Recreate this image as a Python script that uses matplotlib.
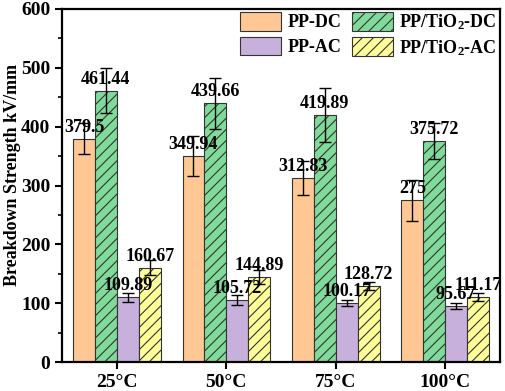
import matplotlib
matplotlib.use("Agg")
import matplotlib.pyplot as plt
import numpy as np
from matplotlib.ticker import MultipleLocator

plt.rcParams['font.family'] = ['Liberation Serif', 'DejaVu Serif']
plt.rcParams['font.weight'] = 'bold'
plt.rcParams['mathtext.fontset'] = 'custom'
plt.rcParams['mathtext.rm'] = 'Liberation Serif:bold'
plt.rcParams['mathtext.bf'] = 'Liberation Serif:bold'
plt.rcParams['mathtext.default'] = 'bf'
plt.rcParams['hatch.linewidth'] = 0.8

categories = ['25°C', '50°C', '75°C', '100°C']
series_names = ['PP-DC', 'PP/TiO$_2$-DC', 'PP-AC', 'PP/TiO$_2$-AC']
pp_dc = [379.5, 349.94, 312.83, 275]
pp_tio2_dc = [461.44, 439.66, 419.89, 375.72]
pp_ac = [109.89, 105.72, 100.17, 95.67]
pp_tio2_ac = [160.67, 144.89, 128.72, 111.17]
err_pp_dc = [26, 34, 29, 35]
err_pp_tio2_dc = [39, 43, 46, 30]
err_pp_ac = [7, 9, 5, 5]
err_pp_tio2_ac = [12, 12, 7, 7]
labels = [['379.5', '349.94', '312.83', '275'],
          ['461.44', '439.66', '419.89', '375.72'],
          ['109.89', '105.72', '100.17', '95.67'],
          ['160.67', '144.89', '128.72', '111.17']]

values = [pp_dc, pp_tio2_dc, pp_ac, pp_tio2_ac]
errors = [err_pp_dc, err_pp_tio2_dc, err_pp_ac, err_pp_tio2_ac]
colors = ['#FFC794', '#80DB9B', '#C7B0DB', '#FFFF99']
hatches = ['', '///', '', '///']

fig = plt.figure(figsize=(5.05, 3.91), dpi=100)
ax = fig.add_axes([0.123, 0.074, 0.867, 0.903])

x = np.arange(len(categories))
w = 0.2
handles = []
for i in range(4):
    xs = x + (i - 1.5) * w
    b = ax.bar(xs, values[i], width=w, color=colors[i], edgecolor='#333333',
               linewidth=0.8, hatch=hatches[i], label=series_names[i], zorder=2)
    handles.append(b)
    ax.errorbar(xs, values[i], yerr=errors[i], fmt='none', ecolor='black',
                elinewidth=1, capsize=4, capthick=1, zorder=3)
    for xx, v, t in zip(xs, values[i], labels[i]):
        ax.text(xx, v + 5, t, ha='center', va='bottom', fontsize=13,
                fontweight='bold', zorder=4)

ax.set_xlim(-0.5, 3.5)
ax.set_ylim(0, 600)
ax.set_xticks(x)
ax.set_xticklabels(categories)
ax.yaxis.set_major_locator(MultipleLocator(100))
ax.yaxis.set_minor_locator(MultipleLocator(50))
ax.tick_params(axis='both', which='major', labelsize=14, width=1.5, length=5, direction='out')
ax.tick_params(axis='y', which='minor', width=1.2, length=3, direction='out')
for lab in ax.get_xticklabels() + ax.get_yticklabels():
    lab.set_fontweight('bold')
for s in ax.spines.values():
    s.set_linewidth(1.6)
ax.set_ylabel('Breakdown Strength kV/mm', fontsize=13, fontweight='bold')
ax.yaxis.set_label_coords(-0.093, 0.53)

order = [0, 2, 1, 3]
leg = ax.legend([handles[k] for k in order], [series_names[k] for k in order],
                loc='upper right', ncol=2, frameon=False, fontsize=13,
                handlelength=2.27, handleheight=1.2, columnspacing=0.6,
                handletextpad=0.35, labelspacing=0.3, borderaxespad=0.0,
                borderpad=0.0,
                bbox_to_anchor=(497 / 505, 1 - 12 / 391),
                bbox_transform=fig.transFigure)
for t in leg.get_texts():
    t.set_fontweight('bold')

fig.savefig('out.png', dpi=100)
